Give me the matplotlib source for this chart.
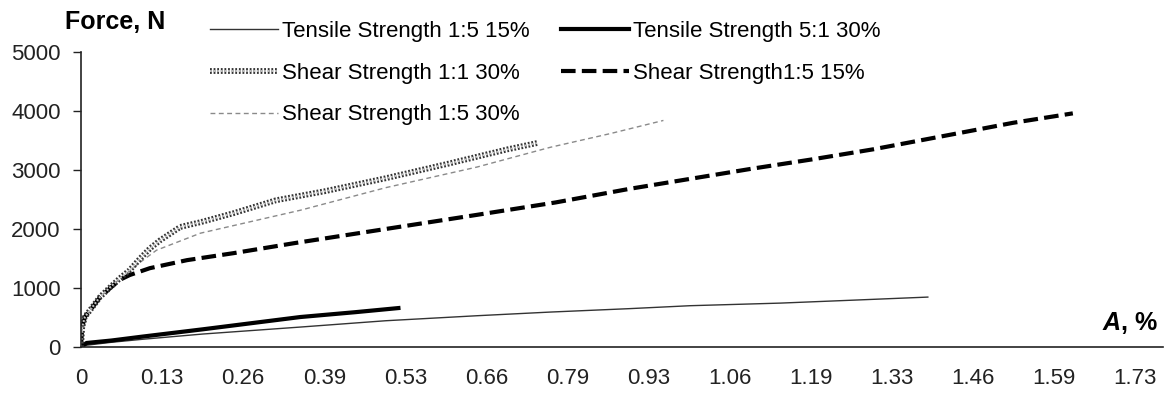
import matplotlib.pyplot as plt
import matplotlib.patheffects as pe
import numpy as np

# strain, % (x) and force, N (y)
tens_15_x = [0, 0.009, 0.05, 0.1, 0.2, 0.36, 0.5, 0.65, 0.77, 0.9, 1.0, 1.148, 1.27, 1.39]
tens_15_y = [0, 30, 80, 130, 220, 338, 445, 530, 592, 650, 700, 744, 795, 846]

tens_51_x = [0, 0.009, 0.05, 0.1, 0.2, 0.3, 0.36, 0.45, 0.521]
tens_51_y = [0, 68, 110, 175, 300, 430, 508, 590, 660]

sh11_x = [0, 0.002, 0.0066, 0.015, 0.031, 0.048, 0.064, 0.080, 0.097, 0.113, 0.130,
          0.163, 0.196, 0.25, 0.32, 0.40, 0.50, 0.60, 0.70, 0.75]
sh11_y = [0, 340, 513, 626, 846, 1015, 1167, 1303, 1500, 1669, 1810,
          2035, 2115, 2267, 2487, 2640, 2860, 3100, 3350, 3460]

sh15_15_x = [0, 0.002, 0.007, 0.015, 0.031, 0.048, 0.064, 0.08, 0.1, 0.113, 0.174, 0.25,
             0.35, 0.5, 0.65, 0.779, 0.9, 1.0, 1.1, 1.2, 1.3, 1.428, 1.53, 1.628]
sh15_15_y = [0, 350, 520, 620, 840, 1000, 1140, 1220, 1290, 1336, 1472, 1590,
             1760, 2000, 2240, 2450, 2680, 2850, 3020, 3180, 3350, 3600, 3800, 3960]

sh15_30_x = [0, 0.002, 0.007, 0.015, 0.031, 0.048, 0.064, 0.08, 0.095, 0.124, 0.196,
             0.36, 0.5, 0.65, 0.77, 0.87, 0.956]
sh15_30_y = [0, 340, 510, 620, 840, 1010, 1160, 1290, 1420, 1641, 1929,
             2318, 2700, 3050, 3384, 3620, 3840]

xtick_labels = ['0', '0.13', '0.26', '0.39', '0.53', '0.66', '0.79', '0.93',
                '1.06', '1.19', '1.33', '1.46', '1.59', '1.73']

plt.rcParams['font.family'] = ['Liberation Sans', 'DejaVu Sans']

fig = plt.figure(figsize=(11.65, 3.94), dpi=100)
W, H = 1165, 394
ax = fig.add_axes([81 / W, 1 - 347 / H, (1163 - 81) / W, (347 - 52) / H])

l1, = ax.plot(tens_15_x, tens_15_y, color='#333333', lw=1.0,
              label='Tensile Strength 1:5 15%')
l2, = ax.plot(tens_51_x, tens_51_y, color='black', lw=3.0,
              label='Tensile Strength 5:1 30%')
l5, = ax.plot(sh15_30_x, sh15_30_y, color='#8a8a8a', lw=1.0,
              linestyle=(0, (3.5, 2.5)), label='Shear Strength 1:5 30%')
l4, = ax.plot(sh15_15_x, sh15_15_y, color='black', lw=3.0,
              linestyle=(0, (3.5, 1.5)), label='Shear Strength1:5 15%')
l3, = ax.plot(sh11_x, sh11_y, color='#c8c8c8', lw=1.3, linestyle=(0, (1, 1)),
              label='Shear Strength 1:1 30%',
              path_effects=[pe.Stroke(linewidth=4.2, foreground='#333333'), pe.Normal()])

step = 1.73 / 13
ax.set_xticks([i * step for i in range(len(xtick_labels))])
ax.set_xticklabels(xtick_labels)
ax.set_xlim(0, 1.776)
ax.set_ylim(0, 5000)
ax.set_yticks(range(0, 5001, 1000))

for s in ['top', 'right']:
    ax.spines[s].set_visible(False)
for s in ['left', 'bottom']:
    ax.spines[s].set_linewidth(1.2)
    ax.spines[s].set_color('#222222')
ax.tick_params(axis='x', length=0, pad=15, labelsize=16, colors='#222222')
ax.tick_params(axis='y', length=5.5, width=1.0, pad=9, labelsize=16,
               colors='#222222', direction='out')

fig.text(65 / W, 1 - 22 / H, 'Force, N', fontsize=18, fontweight='bold',
         ha='left', va='center')

# axis title "A, %" with italic A
t_pct = fig.text(1157 / W, 1 - 323 / H, ', %', fontsize=18, fontweight='bold',
                 ha='right', va='center')
fig.canvas.draw()
bb = t_pct.get_window_extent()
fig.text(bb.x0 / W, 1 - 323 / H, 'A', fontsize=18, fontweight='bold',
         fontstyle='italic', ha='right', va='center')

fig.legend(handles=[l1, l3, l5, l2, l4], ncol=2, loc='upper left',
           bbox_to_anchor=(210 / W, 1 - 21 / H), frameon=False, fontsize=16,
           handlelength=3.05, handletextpad=0.2, columnspacing=1.4,
           labelspacing=0.93, borderpad=0, borderaxespad=0)

fig.savefig('out.png', dpi=100)
